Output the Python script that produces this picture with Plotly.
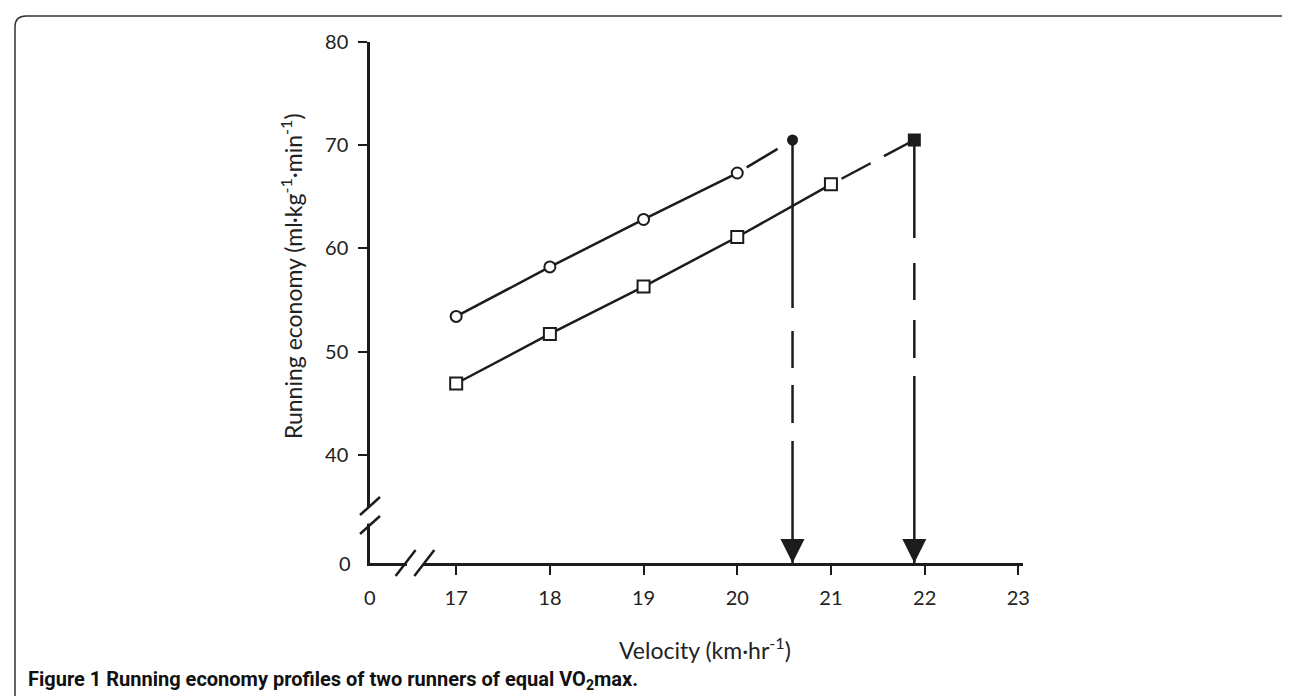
import plotly.graph_objects as go

# ---------------- data ----------------
velocity = [17, 18, 19, 20, 21]                      # km/hr
runner_a_vo2 = [53.4, 58.2, 62.8, 67.3]              # open circles
runner_b_vo2 = [46.9, 51.7, 56.3, 61.1, 66.2]        # open squares
vo2max = 70.5                                        # equal VO2max
runner_a_vvo2max = 20.59                             # velocity at VO2max, runner A
runner_b_vvo2max = 21.89                             # velocity at VO2max, runner B

x_zero_label = "0"
x_tick_labels = ["17", "18", "19", "20", "21", "22", "23"]
x_tick_values = [17, 18, 19, 20, 21, 22, 23]
y_zero_label = "0"
y_tick_labels = ["40", "50", "60", "70", "80"]
y_tick_values = [40, 50, 60, 70, 80]

# broken-axis placement of the "0" origin
X_ZERO_POS = 16.08
X_END = 23.05
Y_ZERO_POS = 29.5
Y_END = 80
X_BREAKS = [16.46, 16.66]
Y_BREAKS = [35.02, 33.18]

# ---------------- layout geometry ----------------
W, H = 1290, 696
L, R, T, B = 362, 275, 34, 141
PW, PH = W - L - R, H - T - B
INK = "#1c1c1c"
FONT = "Lato, 'Open Sans', sans-serif"


def px_to_paper(px, py):
    return (px - L) / PW, 1 - (py - T) / PH


def x_paper(v):
    return (v - X_ZERO_POS) / (X_END - X_ZERO_POS)


def y_paper(v):
    return (v - Y_ZERO_POS) / (Y_END - Y_ZERO_POS)


fig = go.Figure()

# vertical drop lines (dashed in the middle)
fig.add_trace(go.Scatter(
    x=[runner_a_vvo2max, runner_a_vvo2max], y=[vo2max, Y_ZERO_POS], mode="lines",
    line=dict(color=INK, width=2.5, dash="168px,23px,37px,17px,38px,18px,300px"),
    hoverinfo="skip", showlegend=False))
fig.add_trace(go.Scatter(
    x=[runner_b_vvo2max, runner_b_vvo2max], y=[vo2max, Y_ZERO_POS], mode="lines",
    line=dict(color=INK, width=2.5, dash="98px,25px,37px,20px,38px,18px,400px"),
    hoverinfo="skip", showlegend=False))
# arrow heads on the velocity axis
fig.add_trace(go.Scatter(
    x=[runner_a_vvo2max, runner_b_vvo2max], y=[Y_ZERO_POS, Y_ZERO_POS], mode="markers",
    marker=dict(symbol="arrow-down", size=24, color=INK, line=dict(width=0)),
    hoverinfo="skip", showlegend=False, cliponaxis=False))

# dashed extrapolations to VO2max
fig.add_trace(go.Scatter(
    x=[velocity[len(runner_a_vo2) - 1], runner_a_vvo2max], y=[runner_a_vo2[-1], vo2max],
    mode="lines", line=dict(color=INK, width=2.5, dash="0px,11px,36px,200px"),
    hoverinfo="skip", showlegend=False))
fig.add_trace(go.Scatter(
    x=[velocity[len(runner_b_vo2) - 1], runner_b_vvo2max], y=[runner_b_vo2[-1], vo2max],
    mode="lines", line=dict(color=INK, width=2.5, dash="0px,12px,33px,15px,200px"),
    hoverinfo="skip", showlegend=False))

# measured running economy
fig.add_trace(go.Scatter(
    x=velocity[:len(runner_a_vo2)], y=runner_a_vo2, mode="lines+markers",
    line=dict(color=INK, width=2.5),
    marker=dict(symbol="circle", size=11, color="white", line=dict(color=INK, width=2)),
    showlegend=False))
fig.add_trace(go.Scatter(
    x=velocity[:len(runner_b_vo2)], y=runner_b_vo2, mode="lines+markers",
    line=dict(color=INK, width=2.5),
    marker=dict(symbol="square", size=12, color="white", line=dict(color=INK, width=2)),
    showlegend=False))

# VO2max end points
fig.add_trace(go.Scatter(
    x=[runner_a_vvo2max], y=[vo2max], mode="markers",
    marker=dict(symbol="circle", size=11, color=INK, line=dict(width=0)),
    showlegend=False, cliponaxis=False))
fig.add_trace(go.Scatter(
    x=[runner_b_vvo2max], y=[vo2max], mode="markers",
    marker=dict(symbol="square", size=13, color=INK, line=dict(width=0)),
    showlegend=False, cliponaxis=False))

# ---------------- axes ----------------
fig.update_xaxes(
    range=[X_ZERO_POS, X_END], showgrid=False, zeroline=False,
    showline=True, linecolor=INK, linewidth=2.5,
    ticks="outside", ticklen=9, tickwidth=2, tickcolor=INK,
    tickvals=x_tick_values, ticktext=x_tick_labels,
    ticklabelstandoff=6,
    tickfont=dict(family=FONT, size=20, color="#222"))
fig.update_yaxes(
    range=[Y_ZERO_POS, Y_END], showgrid=False, zeroline=False,
    showline=True, linecolor=INK, linewidth=2.5,
    ticks="outside", ticklen=9, tickwidth=2, tickcolor=INK,
    tickvals=y_tick_values, ticktext=y_tick_labels,
    ticklabelstandoff=6,
    tickfont=dict(family=FONT, size=20, color="#222"))

# ---------------- axis break marks (paper-referenced so they are not clipped) ----------------
shapes = []
shapes.append(dict(type="line", layer="above", xref="paper", yref="paper",
                   xsizemode="pixel", xanchor=0, x0=0, x1=0,
                   ysizemode="pixel", yanchor=y_paper(sum(Y_BREAKS) / 2), y0=-8, y1=8,
                   line=dict(color="white", width=6)))
shapes.append(dict(type="line", layer="above", xref="paper", yref="paper",
                   xsizemode="pixel", xanchor=x_paper(sum(X_BREAKS) / 2), x0=-8, x1=8,
                   ysizemode="pixel", yanchor=0, y0=0, y1=0,
                   line=dict(color="white", width=6)))
for yb in Y_BREAKS:
    shapes.append(dict(type="line", layer="above", xref="paper", yref="paper",
                       xsizemode="pixel", xanchor=0, x0=-10, x1=10,
                       ysizemode="pixel", yanchor=y_paper(yb), y0=-9, y1=9,
                       line=dict(color=INK, width=2.5)))
for xb in X_BREAKS:
    shapes.append(dict(type="line", layer="above", xref="paper", yref="paper",
                       xsizemode="pixel", xanchor=x_paper(xb), x0=-10, x1=10,
                       ysizemode="pixel", yanchor=0, y0=-13, y1=13,
                       line=dict(color=INK, width=2.5)))

# rounded frame around the figure
bx0, by0, bx1, by1, rad = 7, 8, 1286, 710, 11
p = px_to_paper
pts = [p(bx0, by1), p(bx0, by0 + rad), p(bx0, by0), p(bx0 + rad, by0),
       p(bx1 - rad, by0), p(bx1, by0), p(bx1, by0 + rad), p(bx1, by1)]
path = (f"M{pts[0][0]},{pts[0][1]} L{pts[1][0]},{pts[1][1]} "
        f"Q{pts[2][0]},{pts[2][1]} {pts[3][0]},{pts[3][1]} "
        f"L{pts[4][0]},{pts[4][1]} Q{pts[5][0]},{pts[5][1]} {pts[6][0]},{pts[6][1]} "
        f"L{pts[7][0]},{pts[7][1]}")
shapes.append(dict(type="path", xref="paper", yref="paper", path=path,
                   line=dict(color="#333", width=1.5)))

# ---------------- texts ----------------
ytx, yty = px_to_paper(283, 268)
xtx, xty = px_to_paper(697, 640)
cx, cy = px_to_paper(18, 672)
annotations = [
    # origin labels of the broken axes
    dict(text=x_zero_label, xref="paper", yref="paper", x=0, y=0,
         xanchor="center", yanchor="middle", yshift=-34, showarrow=False,
         font=dict(family=FONT, size=20, color="#222")),
    dict(text=y_zero_label, xref="paper", yref="paper", x=0, y=0,
         xanchor="right", yanchor="middle", xshift=-17, showarrow=False,
         font=dict(family=FONT, size=20, color="#222")),
    dict(text="Running economy (ml·kg<sup>-1</sup>·min<sup>-1</sup>)", textangle=-90,
         xref="paper", yref="paper", x=ytx, y=yty, xanchor="center", yanchor="middle",
         showarrow=False, font=dict(family=FONT, size=23, color="#222")),
    dict(text="Velocity (km·hr<sup>-1</sup>)",
         xref="paper", yref="paper", x=xtx, y=xty, xanchor="center", yanchor="middle",
         showarrow=False, font=dict(family=FONT, size=23, color="#222")),
    dict(text="<b>Figure 1</b> <b>Running economy profiles of two runners of equal VO<sub>2</sub>max.</b>",
         xref="paper", yref="paper", x=cx, y=cy, xanchor="left", yanchor="middle",
         showarrow=False, font=dict(family="Roboto, 'Liberation Sans', sans-serif", size=20, color="#111")),
]

fig.update_layout(
    width=W, height=H, autosize=False,
    margin=dict(l=L, r=R, t=T, b=B, pad=0),
    plot_bgcolor="white", paper_bgcolor="white",
    shapes=shapes, annotations=annotations, showlegend=False)

fig.write_html("out.html")
